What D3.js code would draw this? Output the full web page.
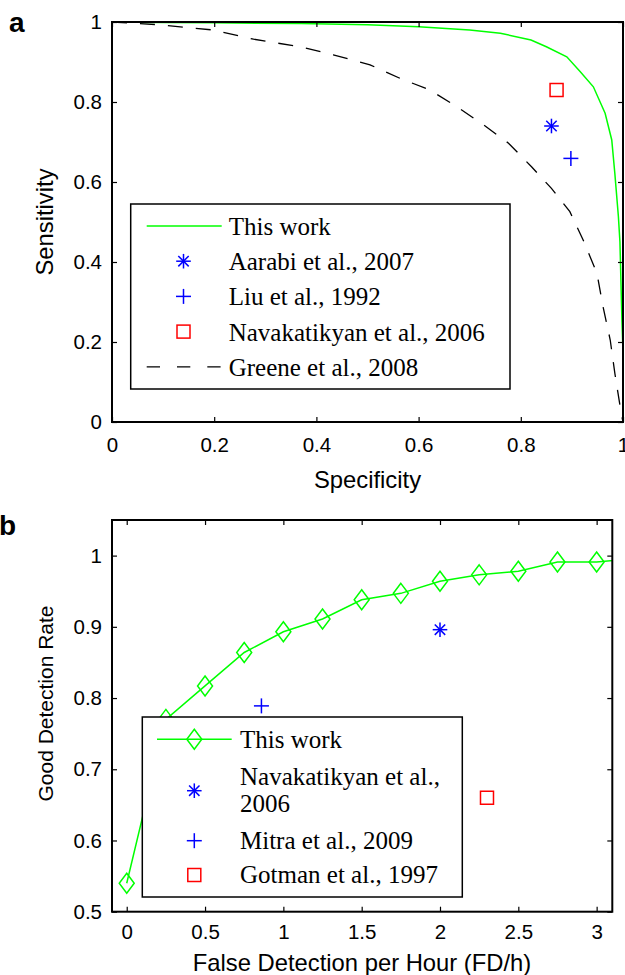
<!DOCTYPE html>
<html>
<head>
<meta charset="utf-8">
<script src="https://cdn.jsdelivr.net/npm/d3@7"></script>
<style>
  body { margin: 0; background: #fff; }
  .legend-text { font-family: "Liberation Serif", "Times New Roman", serif; font-size: 25px; }
</style>
</head>
<body>
<div id="chart"></div>
<script>
// ---- panel a: ROC ----
var specThisWork = [0, 0.1, 0.2, 0.37, 0.5, 0.6, 0.7, 0.76, 0.82, 0.85, 0.89, 0.916, 0.942, 0.965, 0.978, 0.984, 0.991, 0.994, 0.996, 0.998, 1.0];
var sensThisWork = [1.0, 0.999, 0.998, 0.996, 0.993, 0.988, 0.98, 0.972, 0.955, 0.938, 0.913, 0.876, 0.838, 0.772, 0.705, 0.622, 0.513, 0.45, 0.35, 0.25, 0.175];
var specGreene = [0, 0.094, 0.198, 0.277, 0.368, 0.433, 0.505, 0.564, 0.622, 0.675, 0.727, 0.776, 0.821, 0.86, 0.896, 0.922, 0.949, 0.961, 0.975, 0.984, 0.997, 1.0];
var sensGreene = [1.0, 0.993, 0.98, 0.957, 0.938, 0.918, 0.893, 0.859, 0.83, 0.788, 0.743, 0.697, 0.638, 0.584, 0.526, 0.455, 0.372, 0.288, 0.205, 0.122, 0.018, 0.0];
var refsA = [
  {name: "Aarabi et al., 2007", spec: 0.86, sens: 0.74, marker: "star", color: "#0000ff"},
  {name: "Liu et al., 1992", spec: 0.898, sens: 0.659, marker: "plus", color: "#0000ff"},
  {name: "Navakatikyan et al., 2006", spec: 0.87, sens: 0.83, marker: "square", color: "#ff0000"}
];
var ticksA = [0, 0.2, 0.4, 0.6, 0.8, 1];

// ---- panel b: detection rate vs false detections ----
var fdh = [0, 0.25, 0.5, 0.75, 1, 1.25, 1.5, 1.75, 2, 2.25, 2.5, 2.75, 3, 3.25];
var gdr = [0.54, 0.77, 0.817, 0.864, 0.893, 0.911, 0.938, 0.947, 0.964, 0.973, 0.978, 0.991, 0.991, 0.996];
var refsB = [
  {name: ["Navakatikyan et al.,", "2006"], fdh: 2.0, gdr: 0.896, marker: "star", color: "#0000ff"},
  {name: ["Mitra et al., 2009"], fdh: 0.86, gdr: 0.789, marker: "plus", color: "#0000ff"},
  {name: ["Gotman et al., 1997"], fdh: 2.3, gdr: 0.66, marker: "square", color: "#ff0000"}
];
var xTicksB = [0, 0.5, 1, 1.5, 2, 2.5, 3];
var yTicksB = [0.5, 0.6, 0.7, 0.8, 0.9, 1];

var green = "#00ff00";
var tickFont = "Liberation Sans, Arial, sans-serif";

var svg = d3.select("#chart").append("svg")
    .attr("width", 625)
    .attr("height", 975)
    .style("background", "#fff");

function marker(g, type, cx, cy, color) {
    var m = g.append("g").attr("transform", "translate(" + cx + "," + cy + ")")
        .attr("stroke", color).attr("stroke-width", 1.5).attr("fill", "none");
    if (type == "star") {
        m.append("line").attr("x1", -7.3).attr("x2", 7.3);
        m.append("line").attr("y1", -7.3).attr("y2", 7.3);
        m.append("line").attr("x1", -5.2).attr("y1", -5.2).attr("x2", 5.2).attr("y2", 5.2);
        m.append("line").attr("x1", -5.2).attr("y1", 5.2).attr("x2", 5.2).attr("y2", -5.2);
    } else if (type == "plus") {
        m.append("line").attr("x1", -7.5).attr("x2", 7.5);
        m.append("line").attr("y1", -7.5).attr("y2", 7.5);
    } else if (type == "square") {
        m.append("rect").attr("x", -6.5).attr("y", -6.5).attr("width", 13).attr("height", 13);
    } else if (type == "diamond") {
        m.append("path").attr("d", "M0,-10L7.5,0L0,10L-7.5,0Z");
    }
}

function drawAxes(g, x, y, xTicks, yTicks, xPad, fmtX, fmtY) {
    var x0 = x.range()[0], x1 = x.range()[1], y0 = y.range()[0], y1 = y.range()[1];
    var styleAxis = function(a) {
        a.select(".domain").remove();
        a.selectAll("line").attr("stroke", "#000").attr("stroke-width", 1.2);
        a.selectAll("text").attr("fill", "#000").style("font-family", tickFont).style("font-size", "20.5px");
    };
    g.append("g").attr("transform", "translate(0," + y0 + ")")
        .call(d3.axisBottom(x).tickValues(xTicks).tickFormat(fmtX).tickSizeInner(-5).tickSizeOuter(0).tickPadding(xPad))
        .call(styleAxis);
    g.append("g").attr("transform", "translate(0," + y1 + ")")
        .call(d3.axisTop(x).tickValues(xTicks).tickFormat("").tickSizeInner(-5).tickSizeOuter(0))
        .call(styleAxis);
    g.append("g").attr("transform", "translate(" + x0 + ",0)")
        .call(d3.axisLeft(y).tickValues(yTicks).tickFormat(fmtY).tickSizeInner(-5).tickSizeOuter(0).tickPadding(10))
        .call(styleAxis);
    g.append("g").attr("transform", "translate(" + x1 + ",0)")
        .call(d3.axisRight(y).tickValues(yTicks).tickFormat("").tickSizeInner(-5).tickSizeOuter(0))
        .call(styleAxis);
    g.append("rect")
        .attr("x", x0).attr("y", y1)
        .attr("width", x1 - x0).attr("height", y0 - y1)
        .attr("fill", "none").attr("stroke", "#000").attr("stroke-width", 2);
}

function clip(id, x, y) {
    svg.append("clipPath").attr("id", id).append("rect")
        .attr("x", x.range()[0]).attr("y", y.range()[1])
        .attr("width", x.range()[1] - x.range()[0])
        .attr("height", y.range()[0] - y.range()[1]);
}

var fmtA = function(d) { return d == 0 || d == 1 ? String(d) : d3.format(".1f")(d); };

// ================= panel a =================
var xA = d3.scaleLinear().domain([0, 1]).range([112, 623]);
var yA = d3.scaleLinear().domain([0, 1]).range([422, 22]);
var gA = svg.append("g");
clip("clipA", xA, yA);

var lineA = d3.line();
gA.append("path")
    .attr("clip-path", "url(#clipA)")
    .attr("d", lineA(specGreene.map(function(d, i) { return [xA(d), yA(sensGreene[i])]; })))
    .attr("fill", "none").attr("stroke", "#000").attr("stroke-width", 1.3)
    .attr("stroke-dasharray", "15,13");
gA.append("path")
    .attr("clip-path", "url(#clipA)")
    .attr("d", lineA(specThisWork.map(function(d, i) { return [xA(d), yA(sensThisWork[i])]; })))
    .attr("fill", "none").attr("stroke", green).attr("stroke-width", 1.5);

refsA.forEach(function(r) { marker(gA, r.marker, xA(r.spec), yA(r.sens), r.color); });

drawAxes(gA, xA, yA, ticksA, ticksA, 15, fmtA, fmtA);

// legend a
var legA = gA.append("g");
legA.append("rect").attr("x", 130.7).attr("y", 204).attr("width", 379.3).attr("height", 185)
    .attr("fill", "#fff").attr("stroke", "#000").attr("stroke-width", 1.5);
var legRowsA = [{name: "This work", kind: "line"}]
    .concat(refsA.map(function(r) { return {name: r.name, kind: r.marker, color: r.color}; }))
    .concat([{name: "Greene et al., 2008", kind: "dash"}]);
legRowsA.forEach(function(r, i) {
    var cy = 226 + i * 35.2;
    if (r.kind == "line") {
        legA.append("line").attr("x1", 146.7).attr("x2", 221.7).attr("y1", cy).attr("y2", cy)
            .attr("stroke", green).attr("stroke-width", 1.5);
    } else if (r.kind == "dash") {
        legA.append("line").attr("x1", 146.7).attr("x2", 221.7).attr("y1", cy).attr("y2", cy)
            .attr("stroke", "#000").attr("stroke-width", 1.3).attr("stroke-dasharray", "13.3,17");
    } else {
        marker(legA, r.kind, 183.5, cy, r.color);
    }
    legA.append("text").attr("class", "legend-text")
        .attr("x", 228.7).attr("y", cy + 9)
        .text(r.name);
});

// axis labels a
gA.append("text").attr("x", 367.5).attr("y", 488).attr("text-anchor", "middle")
    .style("font-family", tickFont).style("font-size", "23.8px").text("Specificity");
gA.append("text").attr("transform", "translate(53,222) rotate(-90)").attr("text-anchor", "middle")
    .style("font-family", tickFont).style("font-size", "23.8px").text("Sensitivity");
svg.append("text").attr("x", 9).attr("y", 31.7)
    .style("font-family", tickFont).style("font-size", "28px").style("font-weight", "bold").text("a");

// ================= panel b =================
var xB = d3.scaleLinear().domain([-0.094, 3.1]).range([112, 612.3]);
var yB = d3.scaleLinear().domain([0.5, 1.05]).range([911.7, 520]);
var gB = svg.append("g");
clip("clipB", xB, yB);

var curveB = gB.append("g").attr("clip-path", "url(#clipB)");
curveB.append("path")
    .attr("d", d3.line()(fdh.map(function(d, i) { return [xB(d), yB(gdr[i])]; })))
    .attr("fill", "none").attr("stroke", green).attr("stroke-width", 1.5);
fdh.forEach(function(d, i) { marker(curveB, "diamond", xB(d), yB(gdr[i]), green); });

refsB.forEach(function(r) { marker(gB, r.marker, xB(r.fdh), yB(r.gdr), r.color); });

drawAxes(gB, xB, yB, xTicksB, yTicksB, 13, function(d) { return String(d); }, function(d) { return d == 1 ? "1" : d3.format(".1f")(d); });

// legend b
var legB = gB.append("g");
legB.append("rect").attr("x", 142.3).attr("y", 717).attr("width", 320).attr("height", 180)
    .attr("fill", "#fff").attr("stroke", "#000").attr("stroke-width", 1.5);
legB.append("line").attr("x1", 157).attr("x2", 231.7).attr("y1", 739.3).attr("y2", 739.3)
    .attr("stroke", green).attr("stroke-width", 1.5);
marker(legB, "diamond", 194.3, 739.3, green);
legB.append("text").attr("class", "legend-text").attr("x", 240).attr("y", 748).text("This work");
var rowYB = [790.7, 840.7, 875];
refsB.forEach(function(r, i) {
    marker(legB, r.marker, 194.3, rowYB[i], r.color);
    var firstBase = r.name.length > 1 ? 785 : rowYB[i] + 8;
    r.name.forEach(function(line, j) {
        legB.append("text").attr("class", "legend-text")
            .attr("x", 240).attr("y", firstBase + j * 26.7)
            .text(line);
    });
});

// axis labels b
gB.append("text").attr("x", 362).attr("y", 971).attr("text-anchor", "middle")
    .style("font-family", tickFont).style("font-size", "23.8px").text("False Detection per Hour (FD/h)");
gB.append("text").attr("transform", "translate(53,703.5) rotate(-90)").attr("text-anchor", "middle")
    .style("font-family", tickFont).style("font-size", "21px").text("Good Detection Rate");
svg.append("text").attr("x", -1).attr("y", 535)
    .style("font-family", tickFont).style("font-size", "28px").style("font-weight", "bold").text("b");
</script>
</body>
</html>
